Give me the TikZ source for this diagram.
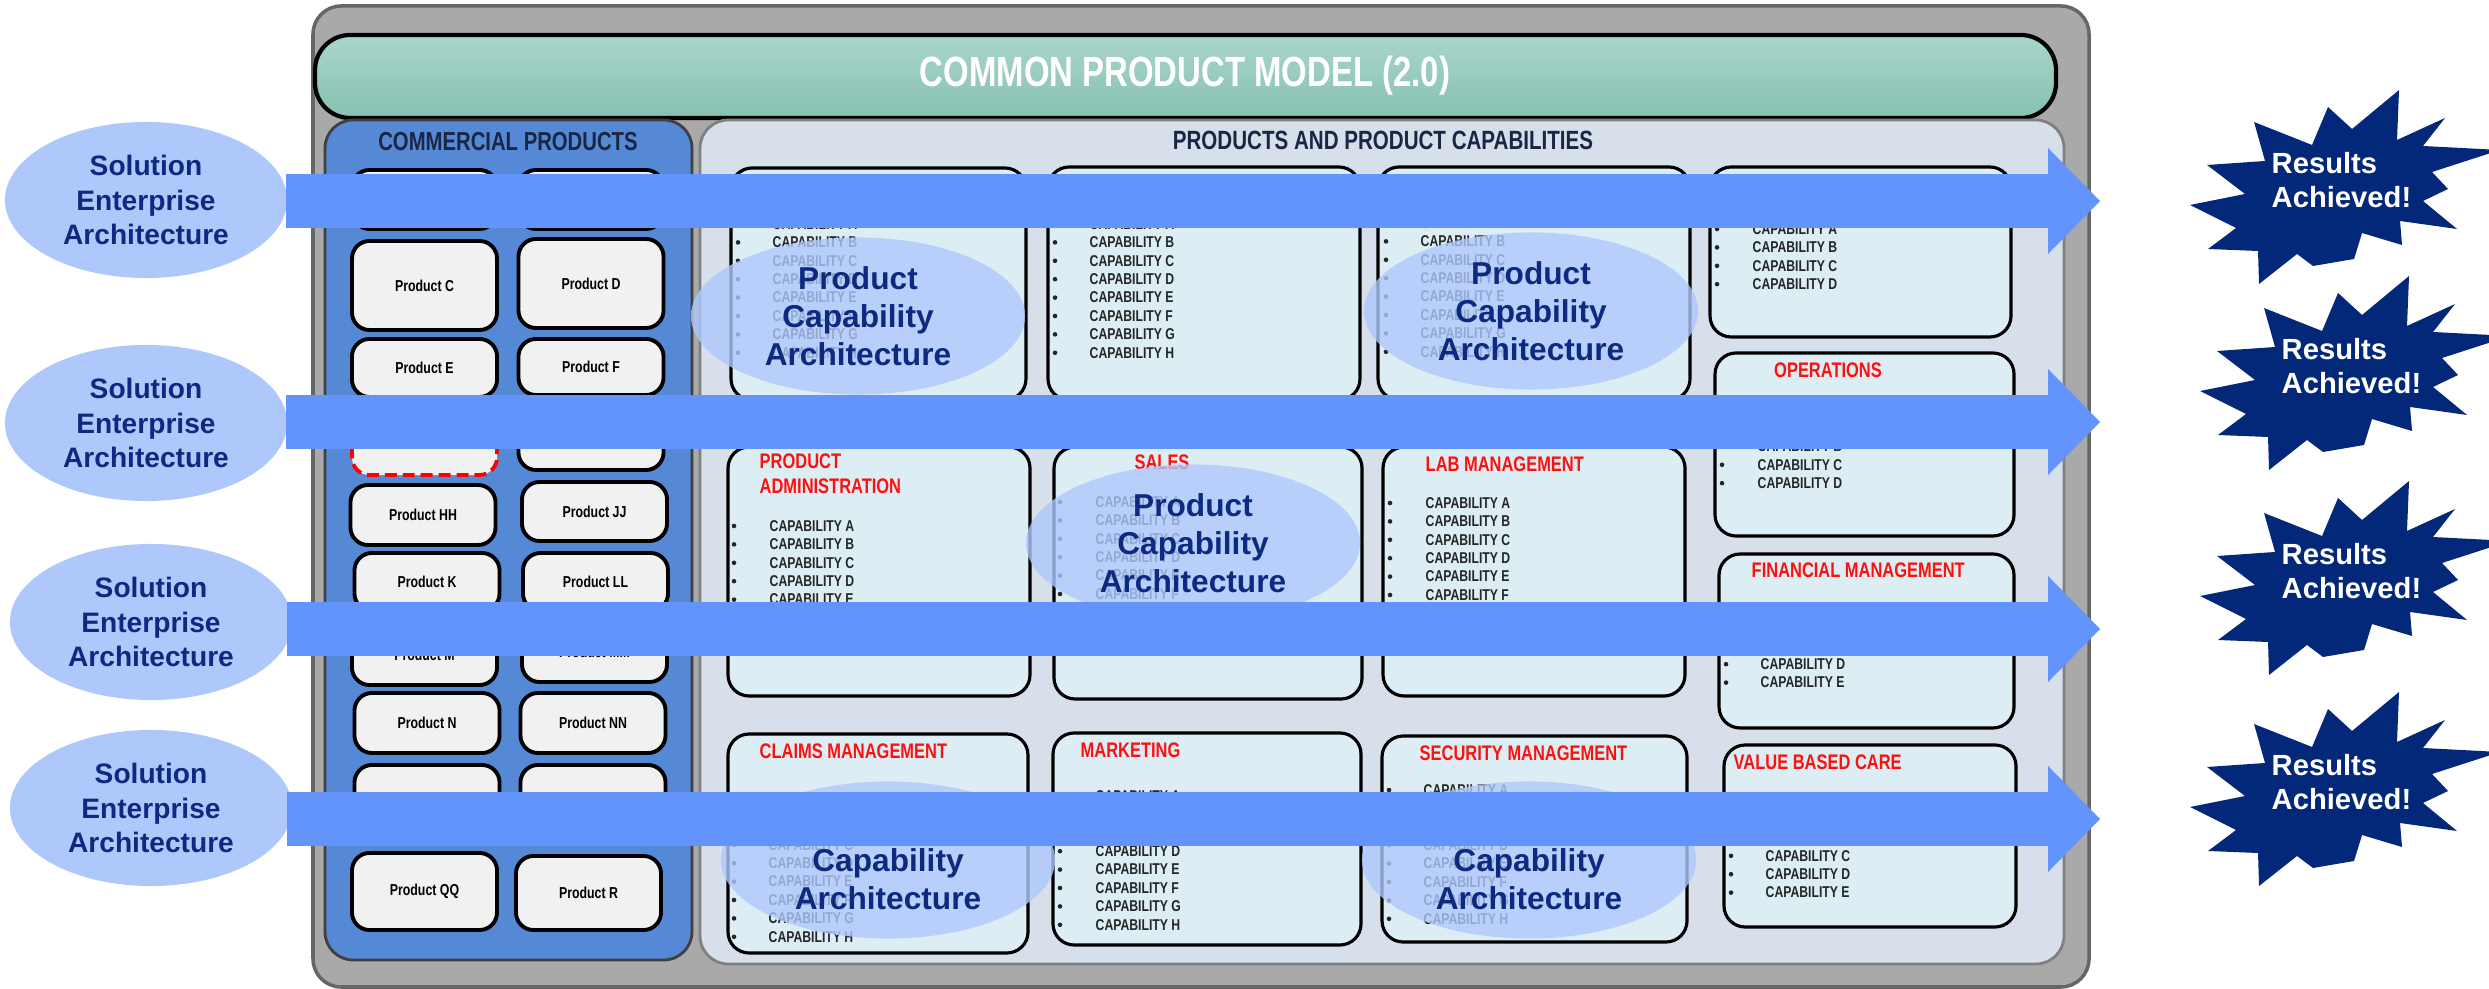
\documentclass[tikz,border=0pt]{standalone}
\usepackage{fontspec}
\setmainfont{Liberation Sans}
\newfontfamily\narrow[FakeStretch=0.78]{Liberation Sans}
\usetikzlibrary{shapes.geometric,arrows.meta}
\definecolor{panelgray}{HTML}{A9A9A9}
\definecolor{tealtop}{HTML}{AAD5CB}
\definecolor{tealbot}{HTML}{86C1B0}
\definecolor{commblue}{HTML}{5588D5}
\definecolor{prodpanel}{HTML}{D6DFEA}
\definecolor{capfill}{HTML}{DCEEF4}
\definecolor{prodfill}{HTML}{F1F1F1}
\definecolor{ovalblue}{HTML}{AEC8FC}
\definecolor{arrowblue}{HTML}{6394FC}
\definecolor{starnavy}{HTML}{03287A}
\definecolor{textnavy}{HTML}{0E2A80}
\definecolor{headnavy}{HTML}{1A2744}
\definecolor{salmon}{HTML}{E39A95}
\definecolor{capred}{HTML}{FF0F0F}
\definecolor{captext}{HTML}{262626}
\begin{document}
\begin{tikzpicture}[x=0.01cm,y=-0.01cm,
	prodbox/.style={draw,line width=1.1pt,rounded corners=5pt,fill=prodfill,minimum width=1.45cm,inner sep=0pt,font=\narrow\bfseries\fontsize{4.5}{5}\selectfont},
	capbox/.style={draw,line width=0.9pt,rounded corners=6pt,fill=capfill},
	capitem/.style={anchor=west,inner sep=0pt,text=captext,font=\narrow\bfseries\fontsize{4.45}{5}\selectfont},
	caphead/.style={inner sep=0pt,text=capred,font=\narrow\bfseries\fontsize{6}{7.1}\selectfont},
	oval/.style={ellipse,fill=ovalblue,inner sep=0pt,align=center,text=textnavy},
	sea/.style={oval,minimum width=2.82cm,minimum height=1.56cm,font=\bfseries\fontsize{8}{9.7}\selectfont},
	pca/.style={oval,fill opacity=0.8,text opacity=1,minimum width=3.34cm,minimum height=1.57cm,font=\bfseries\fontsize{9}{10.8}\selectfont},
	bigarrow/.style={draw=arrowblue,line width=0.54cm,-{Triangle[length=0.52cm,width=1.06cm,line width=0pt]}},
	result/.style={anchor=west,inner sep=0pt,align=left,text=white,font=\bfseries\fontsize{8.3}{9.7}\selectfont}]
\useasboundingbox (0,0) rectangle (2489,989);
\draw[fill=panelgray,draw=gray!80!black,line width=1pt,rounded corners=8pt] (313,6) rectangle (2089,987);
\draw[top color=tealtop,bottom color=tealbot,line width=1.2pt,rounded corners=10pt] (315,35) rectangle (2056,118);
\node[text=white,font=\narrow\bfseries\fontsize{12}{14}\selectfont] (title) at (1185,76) {COMMON PRODUCT MODEL (2.0)};

\draw[fill=commblue,draw=darkgray,line width=0.8pt,rounded corners=8pt] (325,120) rectangle (692,960);
\node[text=headnavy,font=\narrow\bfseries\fontsize{7.4}{9}\selectfont] (commhead) at (508,142) {COMMERCIAL PRODUCTS};
\foreach \nm/\txt/\cx/\cy/\h in {pA//424.5/199.5/0.59cm, pB//591/199.5/0.59cm,
	pC/Product C/424.5/285.5/0.89cm, pD/Product D/591/283.5/0.89cm,
	pE/Product E/424.5/368/0.58cm, pF/Product F/591/367/0.56cm,
	pGG//591/437.5/0.65cm,
	pHH/Product HH/423/515/0.6cm, pJJ/Product JJ/594.5/511.5/0.59cm,
	pK/Product K/427/582/0.58cm, pLL/Product LL/595.5/582/0.58cm,
	pM/Product M/424.5/655/0.6cm, pMM/Product MM/594.5/652/0.6cm,
	pN/Product N/427/723/0.6cm, pNN/Product NN/593/723/0.6cm,
	pO//427/797/0.64cm, pOO//593/797/0.64cm,
	pQQ/Product QQ/424.5/891.5/0.77cm, pR/Product R/588.5/893/0.74cm}{
	\node[prodbox,minimum height=\h] (\nm) at (\cx,\cy) {\txt};
}
\node[prodbox,draw=red,dash pattern=on 3.4pt off 1.7pt,minimum height=0.7cm] (pG) at (424.5,440) {};
\fill[salmon] (326,836) rectangle (692,842);

\draw[fill=prodpanel,draw=gray,line width=0.8pt,rounded corners=8pt] (700,120) rectangle (2064,964);
\node[text=headnavy,font=\narrow\bfseries\fontsize{7.5}{9}\selectfont] (prodhead) at (1383,140) {PRODUCTS AND PRODUCT CAPABILITIES};
\foreach \xa/\ya/\xb/\yb in {731/168/1026/400, 728/447/1030/696, 728/734/1028/953,
	1048/167/1360/400, 1054/447/1362/699, 1053/733/1361/945,
	1378/167/1690/400, 1383/447/1685/696, 1382/736/1687/942,
	1710/167/2011/337, 1715/353/2014/536, 1719/554/2014/728, 1724/745/2016/927}
	\draw[capbox] (\xa,\ya) rectangle (\xb,\yb);

\node[caphead,anchor=west,align=left] (hadmin) at (759,473.5) {PRODUCT\\ADMINISTRATION};
\node[caphead] (hsales) at (1162,462) {SALES};
\node[caphead,anchor=west] (hlab) at (1425,464) {LAB MANAGEMENT};
\node[caphead,anchor=west] (hclaims) at (759,751) {CLAIMS MANAGEMENT};
\node[caphead,anchor=west] (hmarket) at (1080,750) {MARKETING};
\node[caphead,anchor=west] (hsecure) at (1419,753) {SECURITY MANAGEMENT};
\node[caphead] (hops) at (1828,370) {OPERATIONS};
\node[caphead,anchor=west] (hfin) at (1751,570) {FINANCIAL MANAGEMENT};
\node[caphead,anchor=west] (hvbc) at (1733,762) {VALUE BASED CARE};

\foreach \bx/\tx/\ya/\last/\nm in {738/772/224/H/a1, 1055/1089/224/H/b1, 1386/1420/223/H/c1,
	1717/1752/229/D/d1, 1722/1757/428/D/d2, 734/769/526/E/a2, 1060/1095/502/F/b2,
	1390/1425/503/F/c2, 734/768/808/H/a3, 1060/1095/796/H/b3, 1389/1423/790/H/c3,
	1726/1760/609/E/d3, 1731/1765/819/E/d4}{
	\foreach \l [count=\i from 0] in {A,...,\last}{
		\fill[captext] (\bx,\ya+18.4*\i) circle[radius=2.3];
		\node[capitem] (\nm-\l) at (\tx,\ya+18.4*\i) {CAPABILITY \l};
	}
}

\node[pca] (pca1) at (858,316) {Product\\Capability\\Architecture};
\node[pca] (pca2) at (1531,311) {Product\\Capability\\Architecture};
\node[pca] (pca3) at (1193,543) {Product\\Capability\\Architecture};
\node[pca] (pca4) at (888,860) {Product\\Capability\\Architecture};
\node[pca] (pca5) at (1529,860) {Product\\Capability\\Architecture};

\node[sea] (sea1) at (146,200) {Solution\\Enterprise\\Architecture};
\node[sea] (sea2) at (146,423) {Solution\\Enterprise\\Architecture};
\node[sea] (sea3) at (151,622) {Solution\\Enterprise\\Architecture};
\node[sea] (sea4) at (151,808) {Solution\\Enterprise\\Architecture};

\foreach \k/\ty/\dx in {1/201/-0.02cm,2/422/-0.02cm,3/629/-0.06cm,4/819/-0.06cm}{
	\coordinate (tip\k) at (2100,\ty);
	\draw[bigarrow] ([xshift=\dx]sea\k.east |- tip\k) -- (tip\k);
}

\foreach \sx/\sy [count=\k] in {2340/187,2350/373,2350/578,2340/789}{
	\fill[starnavy,shift={(\sx,\sy)}] (59,-97) -- (57,-47) -- (105,-69) -- (83,-41) -- (160,-37)
		-- (92,-15) -- (108,2) -- (83,14) -- (117,42) -- (60,34) -- (62,58) -- (22,46)
		-- (14,72) -- (-27,79) -- (-43,67) -- (-81,97) -- (-82,64) -- (-132,62) -- (-104,41)
		-- (-150,18) -- (-95,7) -- (-133,-22) -- (-75,-26) -- (-86,-65) -- (-28,-42)
		-- (-12,-80) -- (12,-58) -- cycle;
	\node[result] (res\k) at (\sx-69,\sy-7) {Results\\Achieved!};
}
\end{tikzpicture}
\end{document}
